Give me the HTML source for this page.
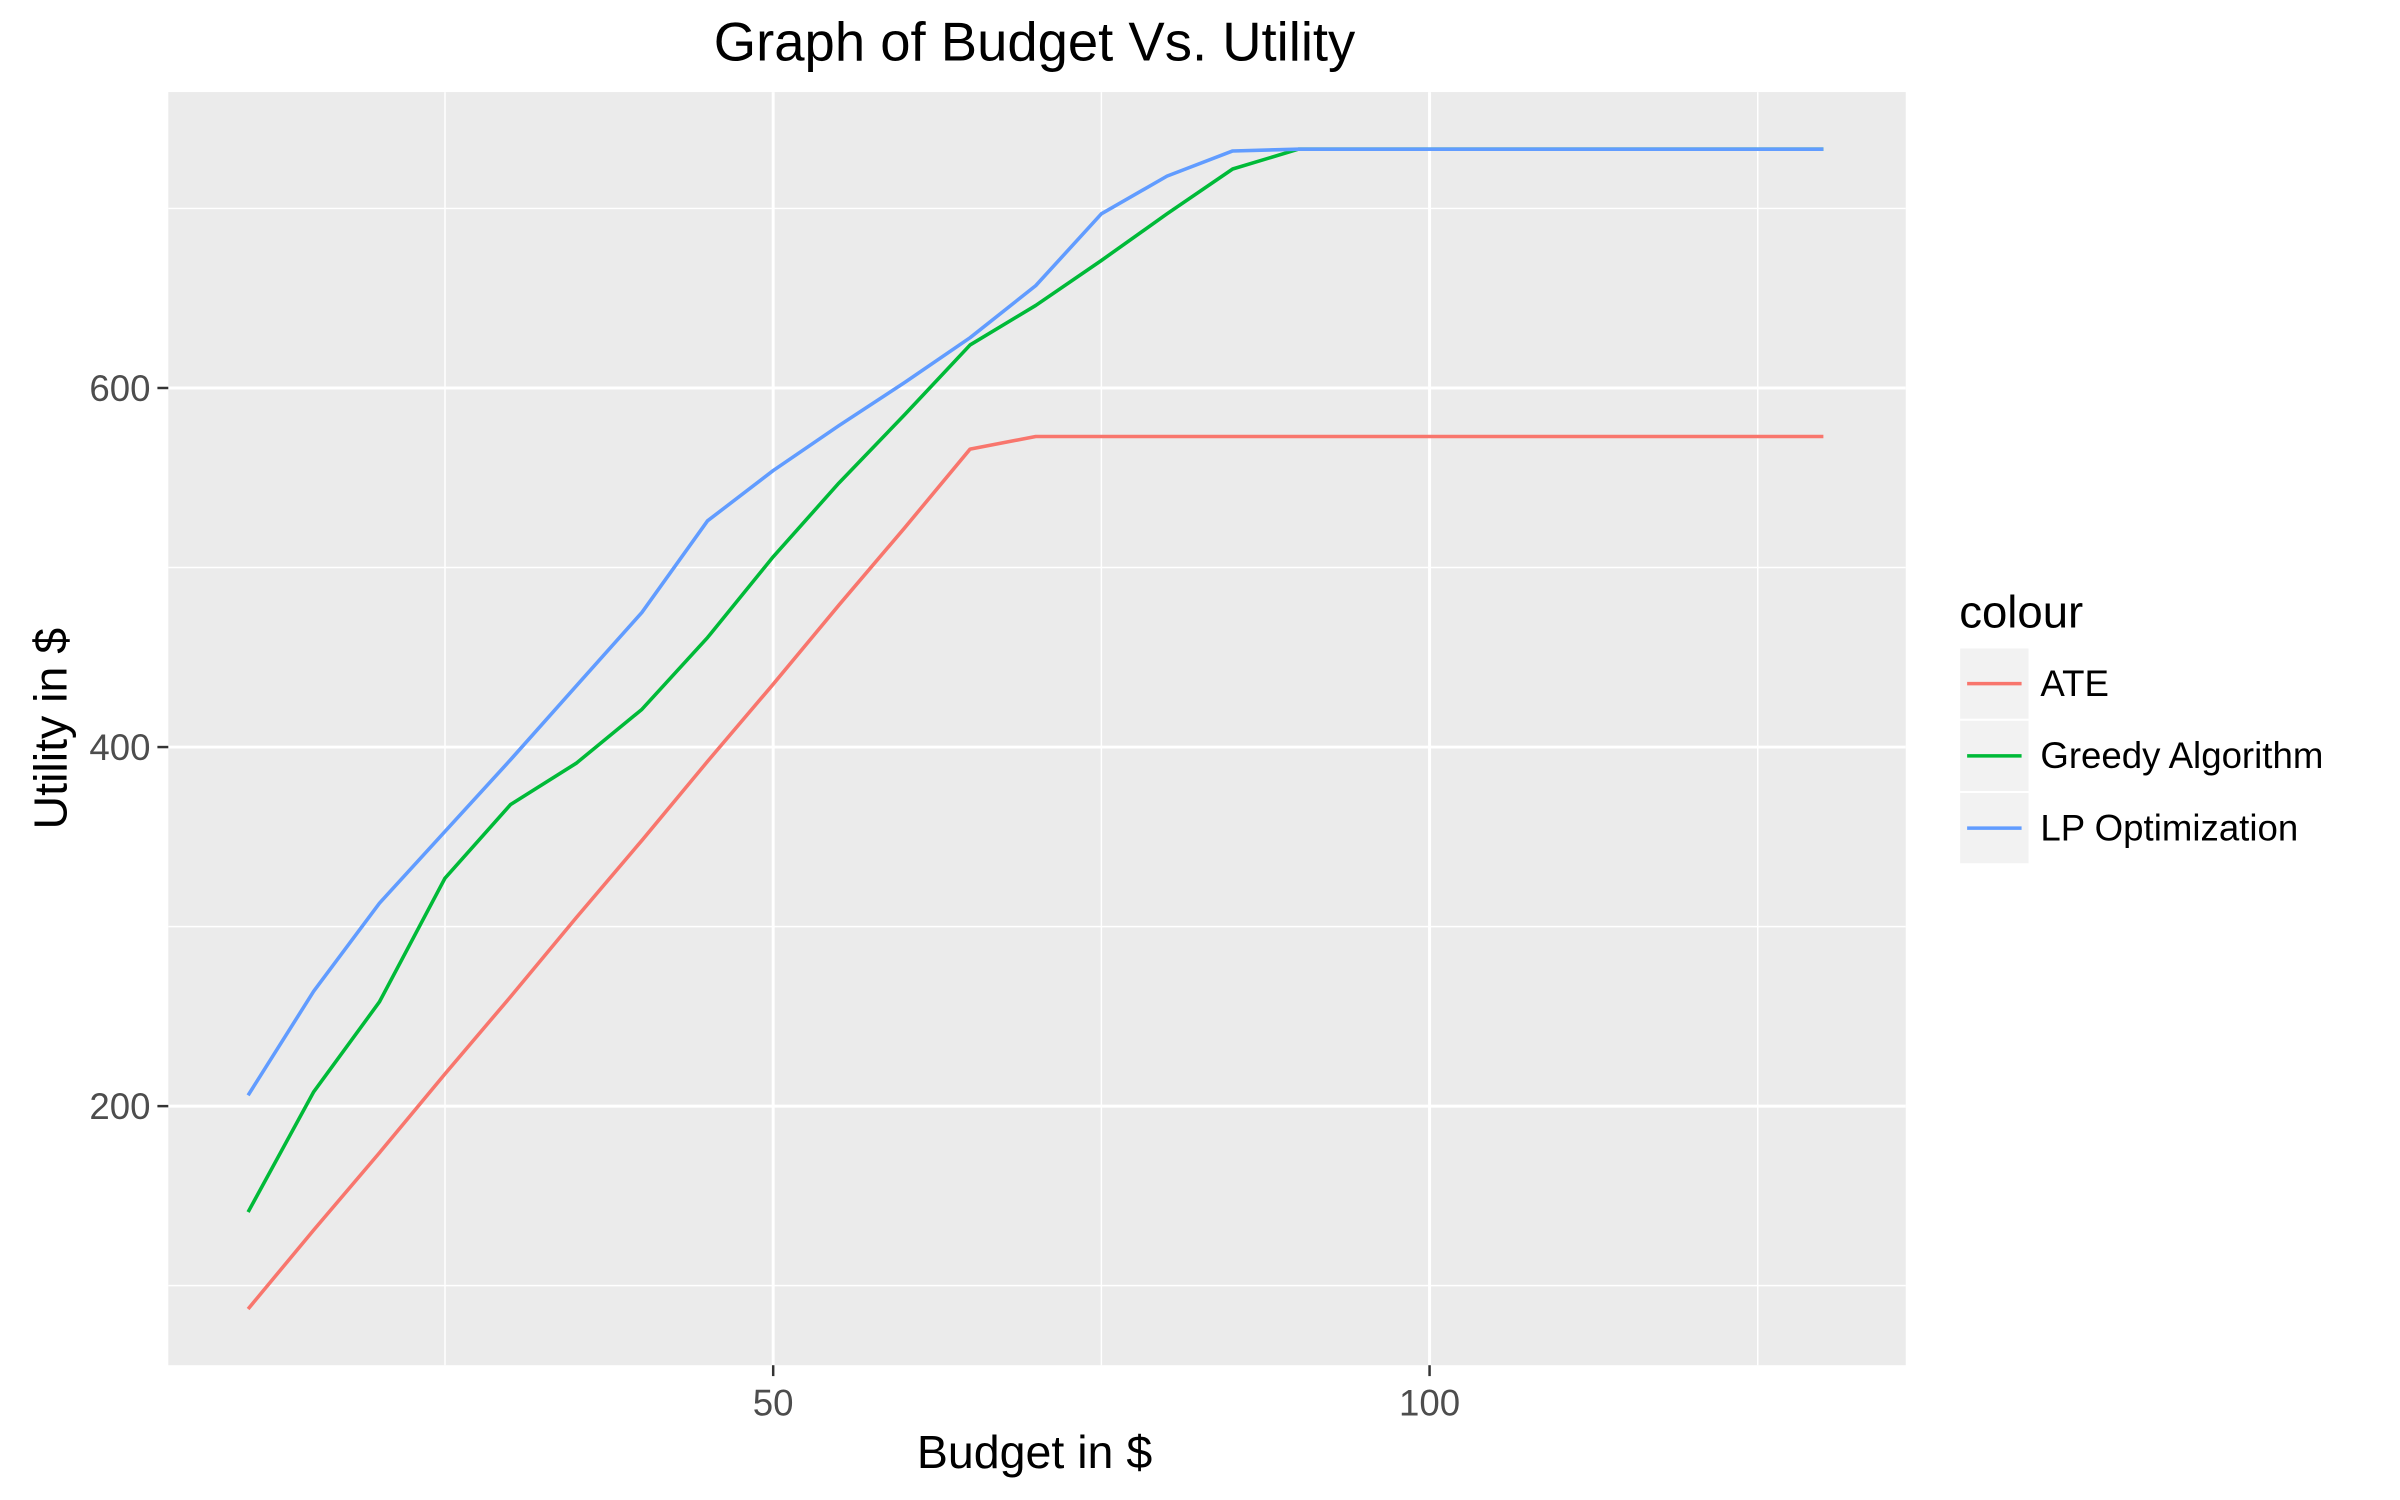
<!DOCTYPE html>
<html><head><meta charset="utf-8"><style>
html,body{margin:0;padding:0;background:#fff;}
svg{display:block;font-family:"Liberation Sans",Arial,sans-serif;}
</style></head><body>
<svg id="chart" width="2400" height="1500" viewBox="0 0 2400 1500">
<rect x="0" y="0" width="2400" height="1500" fill="#fff"/>
<g transform="scale(0.99)">
<rect id="panel" x="170" y="93" width="1755" height="1286" fill="#ebebeb"/>
<g id="grid"></g>
<g id="series"></g>
<g id="axes"></g>
<text x="1045" y="61" font-size="55" text-anchor="middle" fill="#000">Graph of Budget Vs. Utility</text>
<text x="1045" y="1483" font-size="47" text-anchor="middle" fill="#000">Budget in $</text>
<text x="0" y="0" font-size="47" text-anchor="middle" fill="#000" transform="translate(67,736) rotate(-90)">Utility in $</text>
<g id="legend">
<text x="1979" y="634" font-size="46" fill="#000">colour</text>
</g>
</g>
</svg>
<script>
const xValues = [10,15,20,25,30,35,40,45,50,55,60,65,70,75,80,85,90,95,100,105,110,115,120,125,130];
const ateValues = [87,131,174,218,261,305,348,392,435,479,522,566,573,573,573,573,573,573,573,573,573,573,573,573,573];
const greedyValues = [141,208,258,327,368,391,421,461,506,547,585,624,646,671,697,722,733,733,733,733,733,733,733,733,733];
const lpValues = [206,264,313,353,393,434,475,526,554,579,603,628,657,697,718,732,733,733,733,733,733,733,733,733,733];
const seriesNames = ["ATE","Greedy Algorithm","LP Optimization"];
const xTicks = [50,100];
const yTicks = [200,400,600];
const xMinor = [25,75,125];
const yMinor = [100,300,500,700];

const NS = "http://www.w3.org/2000/svg";
const px0 = 170, px1 = 1925, py0 = 93, py1 = 1379;
function xs(v){ return 781 + (v - 50) * 13.26; }
function ys(v){ return 754.6 - (v - 400) * 1.8135; }
function mk(tag, attrs, parent){ const e = document.createElementNS(NS, tag); for (const k in attrs) e.setAttribute(k, attrs[k]); parent.appendChild(e); return e; }

const grid = document.getElementById('grid');
xMinor.forEach(v => {
  const l = mk('line', {x1: xs(v), x2: xs(v), y1: py0, y2: py1, stroke: '#fff', 'stroke-width': 1.5}, grid);
  
  
});
yMinor.forEach(v => {
  const l = mk('line', {x1: px0, x2: px1, y1: ys(v), y2: ys(v), stroke: '#fff', 'stroke-width': 1.5}, grid);
  
  
});
xTicks.forEach(v => {
  const l = mk('line', {x1: xs(v), x2: xs(v), y1: py0, y2: py1, stroke: '#fff', 'stroke-width': 3}, grid);
  
  
});
yTicks.forEach(v => {
  const l = mk('line', {x1: px0, x2: px1, y1: ys(v), y2: ys(v), stroke: '#fff', 'stroke-width': 3}, grid);
  
  
});

const axes = document.getElementById('axes');
xTicks.forEach(v => {
  const t = mk('line', {x1: xs(v), x2: xs(v), y1: py1, y2: py1 + 11, stroke: '#333', 'stroke-width': 2.5}, axes);
  
  
  const tx = mk('text', {x: xs(v), y: py1 + 51, 'font-size': 37, 'text-anchor': 'middle', fill: '#4d4d4d'}, axes);
  tx.textContent = v;
  
  
});
yTicks.forEach(v => {
  const t = mk('line', {x1: px0 - 11, x2: px0, y1: ys(v), y2: ys(v), stroke: '#333', 'stroke-width': 2.5}, axes);
  
  
  const tx = mk('text', {x: px0 - 18, y: ys(v) + 13, 'font-size': 37, 'text-anchor': 'end', fill: '#4d4d4d'}, axes);
  tx.textContent = v;
  
  
});

const colors = ['#f8766d', '#00ba38', '#619cff'];
const allSeries = [ateValues, greedyValues, lpValues];
const sg = document.getElementById('series');
allSeries.forEach((vals, i) => {
  const d = vals.map((v, j) => (j ? 'L' : 'M') + xs(xValues[j]).toFixed(1) + ',' + ys(v).toFixed(1)).join(' ');
  const p = mk('path', {d: d, fill: 'none', stroke: colors[i], 'stroke-width': 3.6, 'stroke-linejoin': 'round'}, sg);
  
  
});

const lg = document.getElementById('legend');
seriesNames.forEach((n, i) => {
  const y0 = 655 + i * 73;
  const r = mk('rect', {x: 1980, y: y0, width: 69, height: 71, fill: '#f2f2f2'}, lg);
  
  
  const l = mk('line', {x1: 1987, x2: 2042, y1: y0 + 35.5, y2: y0 + 35.5, stroke: colors[i], 'stroke-width': 3.6}, lg);
  
  
  const t = mk('text', {x: 2061, y: y0 + 48, 'font-size': 37, fill: '#000'}, lg);
  t.textContent = n;
  
  
});
</script>
</body></html>
